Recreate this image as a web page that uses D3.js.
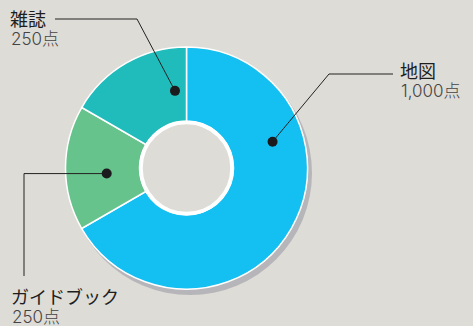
<!DOCTYPE html>
<html>
<head>
<meta charset="utf-8">
<script src="https://cdn.jsdelivr.net/npm/d3@7"></script>
<style>
  html, body { margin: 0; padding: 0; background: #dddcd6; }
  svg { display: block; }
  .name { font-family: "Noto Sans CJK JP", sans-serif; font-size: 18px; font-weight: 400; fill: #1e1e1e; }
  .val { font-family: Inter, "Noto Sans CJK JP", sans-serif; font-size: 17px; font-weight: 300; fill: #444; }
</style>
</head>
<body>
<div id="chart"></div>
<script>
// data
const categories = ['地図', 'ガイドブック', '雑誌']
const counts = [1000, 250, 250]
const valueLabels = ['1,000点', '250点', '250点']
const colors = ['#14bff2', '#66c38c', '#20bcbc']

var fullWidth = 473;
var fullHeight = 326;
var cx = 186.5, cy = 168;
var outerR = 121, innerR = 47;

var svg = d3.select('#chart').append('svg')
  .attr('width', fullWidth)
  .attr('height', fullHeight)

var slices = categories.map(function(c, i) {
  return {label: c, count: counts[i], text: valueLabels[i], color: colors[i]}
})

var pie = d3.pie().sort(null).value(function(d) { return d.count; })
var arc = d3.arc().outerRadius(outerR).innerRadius(innerR)

var g = svg.append('g').attr('transform', 'translate(' + cx + ',' + cy + ')')

// drop shadow
g.append('circle')
  .attr('cx', 3.5).attr('cy', 5).attr('r', outerR + 1)
  .attr('fill', '#b6b6ba')

g.selectAll('.arc').data(pie(slices))
  .enter().append('path')
    .attr('class', 'arc')
    .attr('d', arc)
    .attr('fill', function(d) { return d.data.color; })
    .attr('stroke', '#fff')
    .attr('stroke-width', 1.5)

// hole with white ring
g.append('circle')
  .attr('r', innerR - 1.5)
  .attr('fill', '#dddcd6')
  .attr('stroke', '#fff')
  .attr('stroke-width', 3.5)

// callouts: dot angle (deg, clockwise from top), dot radius, leader path, text position
var callouts = [
  {i: 0, ang: 73, r: 90, path: function(p) { return [p, [329, 74], [393, 74]]; }, tx: 400, ty: 78},
  {i: 1, ang: 266, r: 80, path: function(p) { return [p, [24, p[1]], [24, 276]]; }, tx: 11, ty: 304},
  {i: 2, ang: 351.5, r: 78, path: function(p) { return [p, [137, 19], [55, 19]]; }, tx: 10, ty: 26}
]

var line = d3.line()

callouts.forEach(function(c) {
  var a = c.ang * Math.PI / 180
  var p = [cx + c.r * Math.sin(a), cy - c.r * Math.cos(a)]
  svg.append('path')
    .attr('d', line(c.path(p)))
    .attr('fill', 'none')
    .attr('stroke', '#222')
    .attr('stroke-width', 1)
  svg.append('circle')
    .attr('cx', p[0]).attr('cy', p[1]).attr('r', 5)
    .attr('fill', '#1b1b1d')
  svg.append('text')
    .attr('class', 'name')
    .attr('x', c.tx).attr('y', c.ty)
    .text(slices[c.i].label)
  svg.append('text')
    .attr('class', 'val')
    .attr('x', c.tx + 1).attr('y', c.ty + 19)
    .text(slices[c.i].text)
})
</script>
</body>
</html>
